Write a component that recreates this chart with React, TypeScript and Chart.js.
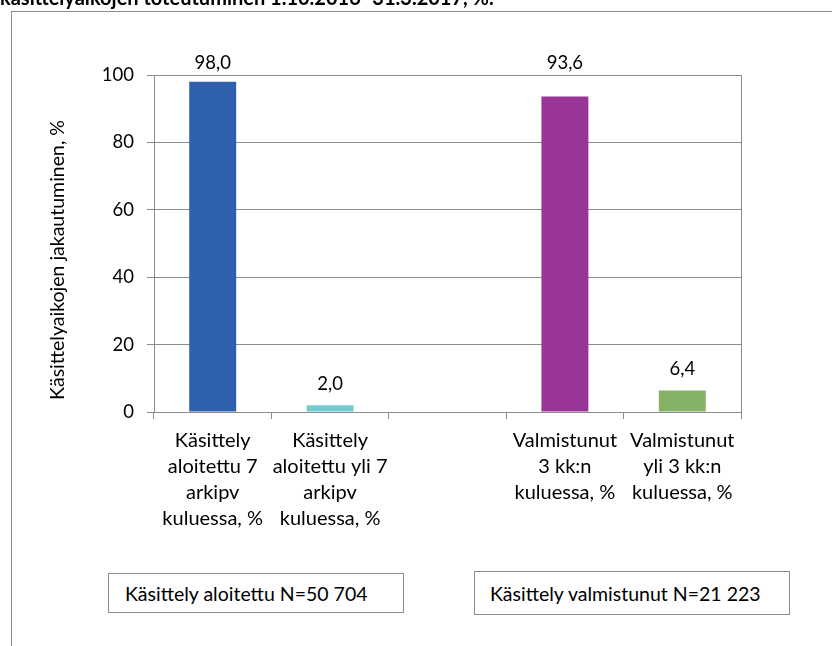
import React, { useEffect, useRef } from "react";
import { Chart, registerables } from "chart.js";

Chart.register(...registerables);

const titleText = "käsittelyaikojen toteutuminen 1.10.2016–31.3.2017, %.";
const yAxisTitle = "Käsittelyaikojen jakautuminen, %";
const categories: string[][] = [
  ["Käsittely", "aloitettu 7", "arkipv", "kuluessa, %"],
  ["Käsittely", "aloitettu yli 7", "arkipv", "kuluessa, %"],
  [""],
  ["Valmistunut", "3 kk:n", "kuluessa, %"],
  ["Valmistunut", "yli 3 kk:n", "kuluessa, %"],
];
const values: (number | null)[] = [98.0, 2.0, null, 93.6, 6.4];
const barColors = ["#2E60AD", "#74CCD3", "#ffffff", "#993597", "#86B268"];
const yMin = 0;
const yMax = 100;
const yStep = 20;
const noteLeft = "Käsittely aloitettu N=50 704";
const noteRight = "Käsittely valmistunut N=21 223";

const FONT = "Lato";
const GRAY = "#8c8c8c";

export default function App() {
  const ref = useRef<HTMLCanvasElement | null>(null);

  useEffect(() => {
    if (!ref.current) return;
    const overlay = {
      id: "overlay",
      afterDatasetsDraw(chart: any) {
        const ctx = chart.ctx;
        const area = chart.chartArea;
        const meta = chart.getDatasetMeta(0);
        ctx.save();
        ctx.fillStyle = "#000";
        ctx.font = `18.5px ${FONT}`;
        ctx.textAlign = "center";
        ctx.textBaseline = "middle";
        meta.data.forEach((bar: any, i: number) => {
          const v = values[i];
          if (v === null || v === undefined) return;
          let y = bar.y - 21;
          if (y <= area.top + 2) y = area.top - 12;
          ctx.fillText(v.toFixed(1).replace(".", ","), bar.x, y);
        });
        // y axis title
        ctx.save();
        ctx.font = `19.5px ${FONT}`;
        ctx.translate(58, 260);
        ctx.rotate(-Math.PI / 2);
        ctx.fillText(yAxisTitle, 0, 0);
        ctx.restore();
        // chart title (clipped at top)
        ctx.font = `bold 20px ${FONT}`;
        ctx.textAlign = "left";
        ctx.textBaseline = "alphabetic";
        ctx.fillText(titleText, 0, 5);
        ctx.restore();
      },
    };
    const chart = new Chart(ref.current, {
      type: "bar",
      data: {
        labels: categories,
        datasets: [
          {
            data: values as any,
            backgroundColor: barColors,
            barPercentage: 0.4,
            categoryPercentage: 1,
          },
        ],
      },
      options: {
        animation: false,
        responsive: false,
        maintainAspectRatio: false,
        layout: { padding: { left: 0, top: 75, right: 91, bottom: 0 } },
        plugins: {
          legend: { display: false },
          tooltip: { enabled: false },
          title: { display: false },
        },
        scales: {
          x: {
            afterFit: (s: any) => {
              s.height = 234;
            },
            grid: {
              display: true,
              drawOnChartArea: true,
              offset: true,
              color: (c: any) => (c.type === "tick" ? "rgba(0,0,0,0)" : GRAY),
              tickColor: GRAY,
              tickLength: 7,
              lineWidth: 1,
            },
            border: { display: true, color: GRAY, width: 1 },
            ticks: {
              color: "#000",
              font: { family: FONT, size: 20, lineHeight: "26px" } as any,
              padding: 9,
              maxRotation: 0,
              minRotation: 0,
              autoSkip: false,
            },
          },
          y: {
            min: yMin,
            max: yMax,
            afterFit: (s: any) => {
              s.width = 154;
            },
            grid: {
              color: GRAY,
              tickColor: GRAY,
              tickLength: 7,
              lineWidth: 1,
            },
            border: { display: true, color: GRAY, width: 1 },
            ticks: {
              stepSize: yStep,
              color: "#000",
              font: { family: FONT, size: 18.5 },
              padding: 13,
            },
          },
        },
      },
      plugins: [overlay],
    });
    return () => chart.destroy();
  }, []);

  const boxStyle: React.CSSProperties = {
    position: "absolute",
    border: `1.5px solid ${GRAY}`,
    boxSizing: "border-box",
    background: "#fff",
    fontFamily: FONT,
    fontSize: 19.5,
    color: "#000",
    display: "flex",
    alignItems: "center",
    whiteSpace: "nowrap",
  };

  return (
    <div
      style={{
        position: "absolute",
        left: 0,
        top: 0,
        width: 832,
        height: 646,
        overflow: "hidden",
        background: "#fff",
      }}
    >
      <div
        style={{
          position: "absolute",
          left: 11,
          top: 11,
          width: 821,
          height: 635,
          borderLeft: `1.5px solid ${GRAY}`,
          borderTop: `1.5px solid ${GRAY}`,
          boxSizing: "border-box",
        }}
      />
      <canvas
        ref={ref}
        width={832}
        height={646}
        style={{ position: "absolute", left: 0, top: 0, width: 832, height: 646 }}
      />
      <div style={{ ...boxStyle, left: 108, top: 573, width: 296, height: 40, paddingLeft: 16 }}>
        {noteLeft}
      </div>
      <div style={{ ...boxStyle, left: 474, top: 571, width: 316, height: 44, paddingLeft: 15 }}>
        {noteRight}
      </div>
    </div>
  );
}
